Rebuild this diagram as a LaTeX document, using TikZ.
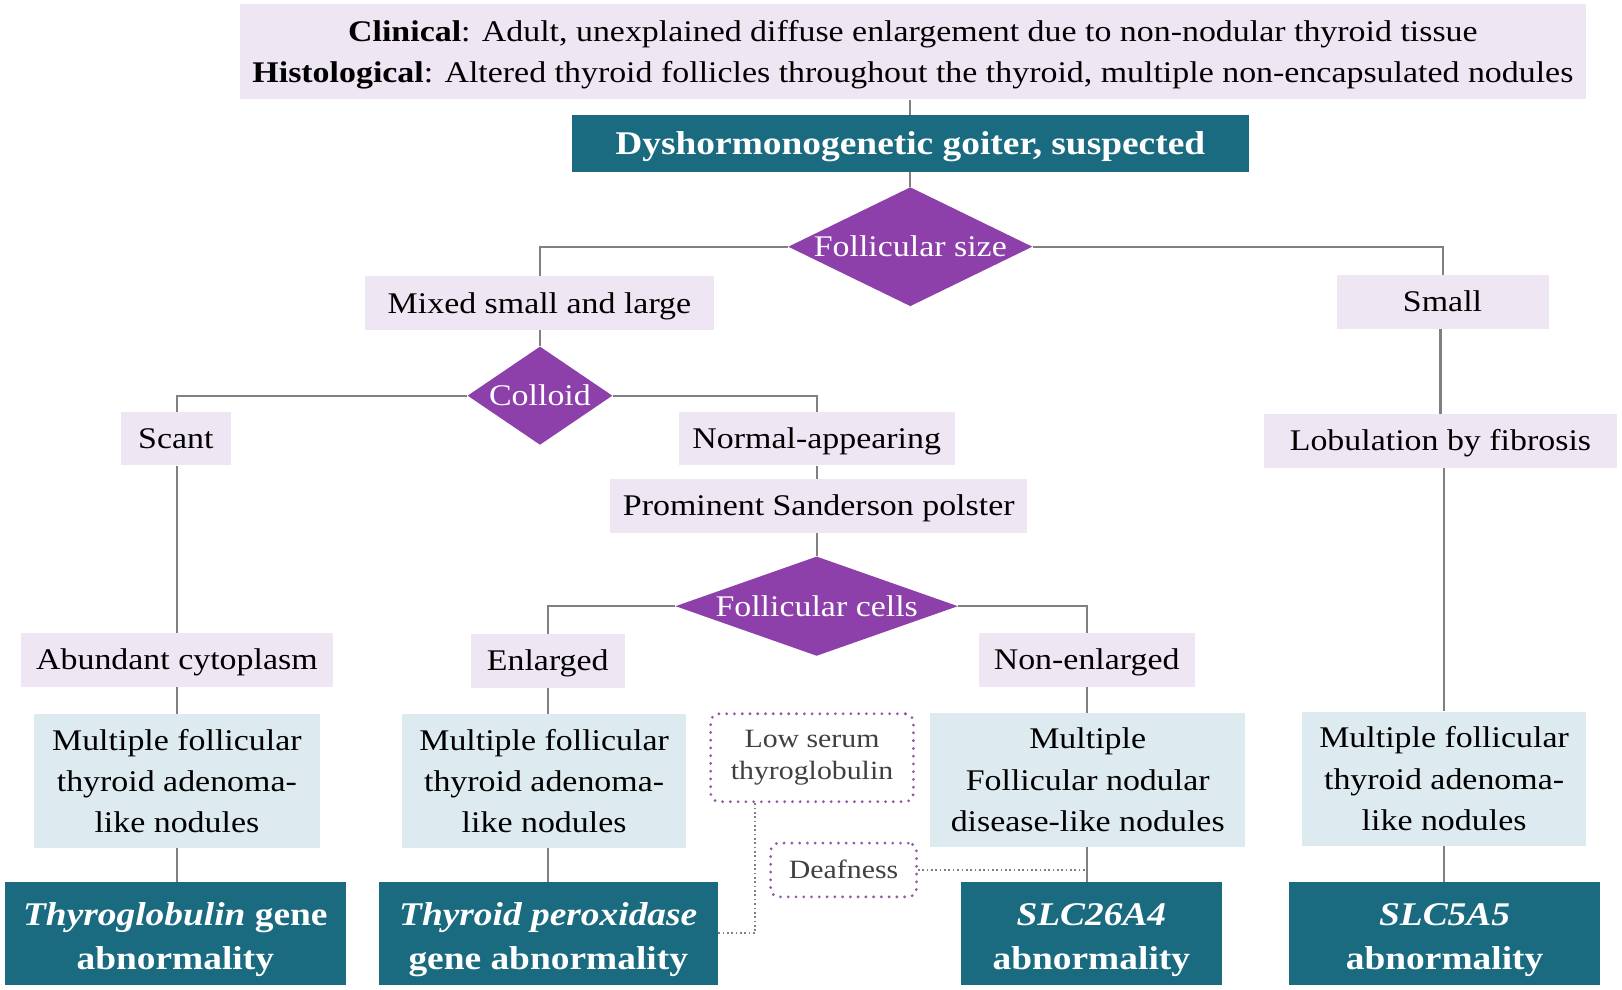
\documentclass[tikz,border=0pt]{standalone}
\usepackage{fontspec}
\setmainfont{Liberation Serif}[FakeStretch=1.13]
\usetikzlibrary{shapes.geometric,calc}
\definecolor{lav}{HTML}{EFE6F4}
\definecolor{lblue}{HTML}{DDEAF0}
\definecolor{teal}{HTML}{1A6B80}
\definecolor{purp}{HTML}{8E40AA}
\definecolor{conn}{HTML}{808080}
\definecolor{dotp}{HTML}{9457B0}
\definecolor{dtxt}{HTML}{404040}
\tikzset{
  base/.style={inner sep=0pt, align=center, font=\fontsize{29}{40}\selectfont},
  oneline/.style={text height=24pt, text depth=4.8pt},
  lavbox/.style={base, oneline, rectangle, fill=lav},
  bluebox/.style={base, rectangle, fill=lblue},
  darkbox/.style={rectangle, fill=teal, inner sep=0pt},
  darktext/.style={inner sep=0pt, align=center, text=white, font=\fontsize{32}{42.5}\selectfont\bfseries},
  diam/.style={diamond, fill=purp, inner sep=0pt},
  dtext/.style={base, oneline, text=white},
  dotbox/.style={base, rectangle, rounded corners=8pt, draw=dotp, line width=3pt, dash pattern=on 0pt off 7.5pt, line cap=round, text=dtxt, font=\fontsize{25.5}{31}\selectfont},
  conline/.style={draw=conn, line width=2pt},
  dotline/.style={draw=conn, line width=1.6pt, dash pattern=on 1.6pt off 2.6pt},
}
\begin{document}
\begin{tikzpicture}[x=1pt,y=-1pt]
\useasboundingbox (0,0) rectangle (1568,957);
% top
\node[rectangle, fill=lav, minimum width=1301pt, minimum height=92pt] (top) at (882.5,50) {};
\node[base, yshift=-3pt] (topt) at (top)
  {\textbf{Clinical}: Adult, unexplained diffuse enlargement due to non-nodular thyroid tissue\\
   \textbf{Histological}: Altered thyroid follicles throughout the thyroid, multiple non-encapsulated nodules};
\node[darkbox, minimum width=654pt, minimum height=55pt] (dysh) at (880,138.5) {};
\node[darktext, text height=26.5pt, text depth=5.3pt] (dysht) at (dysh) {Dyshormonogenetic goiter, suspected};
% diamonds
\node[diam, minimum width=236pt, minimum height=115pt] (fs) at (880,238.5) {};
\node[dtext] (fst) at (fs) {Follicular size};
\node[diam, minimum width=140pt, minimum height=95pt] (col) at (522,382.5) {};
\node[dtext] (colt) at (col) {Colloid};
\node[diam, minimum width=273pt, minimum height=96pt] (fc) at (789.5,586) {};
\node[dtext] (fct) at (fc) {Follicular cells};
% lavender boxes
\node[lavbox, minimum width=337pt, minimum height=52pt] (mixed) at (521.5,293) {Mixed small and large};
\node[lavbox, minimum width=205pt, minimum height=52pt] (small) at (1394.5,292) {Small};
\node[lavbox, minimum width=106pt, minimum height=52pt] (scant) at (170,424) {Scant};
\node[lavbox, minimum width=267pt, minimum height=52pt] (normal) at (789.5,424) {Normal-appearing};
\node[lavbox, minimum width=403pt, minimum height=52pt] (prom) at (791.5,489) {Prominent Sanderson polster};
\node[lavbox, minimum width=302pt, minimum height=52pt] (abund) at (171,638) {Abundant cytoplasm};
\node[lavbox, minimum width=149pt, minimum height=52pt] (enl) at (529.5,639) {Enlarged};
\node[lavbox, minimum width=209pt, minimum height=52pt] (nenl) at (1050.5,638) {Non-enlarged};
\node[lavbox, minimum width=341pt, minimum height=52pt] (lob) at (1392.5,426) {Lobulation by fibrosis};
% light blue boxes
\node[bluebox, minimum width=276pt, minimum height=130pt] (b1) at (171,755) {Multiple follicular\\thyroid adenoma-\\like nodules};
\node[bluebox, minimum width=274pt, minimum height=130pt] (b2) at (526,755) {Multiple follicular\\thyroid adenoma-\\like nodules};
\node[bluebox, minimum width=305pt, minimum height=130pt] (b3) at (1051.5,754) {Multiple\\Follicular nodular\\disease-like nodules};
\node[bluebox, minimum width=274pt, minimum height=130pt] (b4) at (1396,753) {Multiple follicular\\thyroid adenoma-\\like nodules};
% dark boxes
\node[darkbox, minimum width=329pt, minimum height=99pt] (d1) at (169.5,902.5) {};
\node[darktext, yshift=-6pt] (d1t) at (d1) {\textit{Thyroglobulin} gene\\abnormality};
\node[darkbox, minimum width=328pt, minimum height=99pt] (d2) at (530,902.5) {};
\node[darktext, yshift=-6pt] (d2t) at (d2) {\textit{Thyroid peroxidase}\\gene abnormality};
\node[darkbox, minimum width=252pt, minimum height=99pt] (d3) at (1055,902.5) {};
\node[darktext, yshift=-6pt] (d3t) at (d3) {\textit{SLC26A4}\\abnormality};
\node[darkbox, minimum width=301pt, minimum height=99pt] (d4) at (1396.5,902.5) {};
\node[darktext, yshift=-6pt] (d4t) at (d4) {\textit{SLC5A5}\\abnormality};
% dotted boxes
\node[dotbox, minimum width=196pt, minimum height=85pt] (low) at (785,732.5) {Low serum\\thyroglobulin};
\node[dotbox, oneline, text height=21pt, text depth=4pt, minimum width=141pt, minimum height=52pt] (deaf) at (815.5,841) {Deafness};
% connectors
\draw[conline] (top.south -| dysh.north) -- (dysh.north);
\draw[conline] (dysh.south) -- (fs.north);
\draw[conline] (fs.west) -| (col.north |- mixed.north);
\draw[conline] (fs.east) -| (small.north);
\draw[conline] (col.north |- mixed.south) -- (col.north);
\draw[conline] (col.west) -| (abund.north |- scant.north);
\draw[conline] (col.east) -| (normal.north);
\draw[conline] (normal.south) -- (normal.south |- prom.north);
\draw[conline] (fc.north |- prom.south) -- (fc.north);
\draw[conline] (fc.west) -| (enl.north);
\draw[conline] (fc.east) -| (nenl.north);
\draw[conline] (abund.north |- scant.south) -- (abund.north);
\draw[conline] (small.south -| lob.north) -- (lob.north);
\draw[conline] (abund.south) -- (abund.south |- b1.north);
\draw[conline] (enl.south) -- (enl.south |- b2.north);
\draw[conline] (nenl.south) -- (nenl.south |- b3.north);
\draw[conline] (b4.north |- lob.south) -- (b4.north);
\draw[conline] (b1.south -| abund.south) -- (abund.south |- d1.north);
\draw[conline] (b2.south -| enl.south) -- (enl.south |- d2.north);
\draw[conline] (b3.south -| nenl.south) -- (nenl.south |- d3.north);
\draw[conline] (b4.south) -- (b4.south |- d4.north);
\coordinate (lowc) at (730,902);
\draw[dotline] (lowc |- low.south) -- (lowc) -- (lowc -| d2.east);
\draw[dotline] (deaf.east) -- (deaf.east -| nenl.south);
\end{tikzpicture}
\end{document}
